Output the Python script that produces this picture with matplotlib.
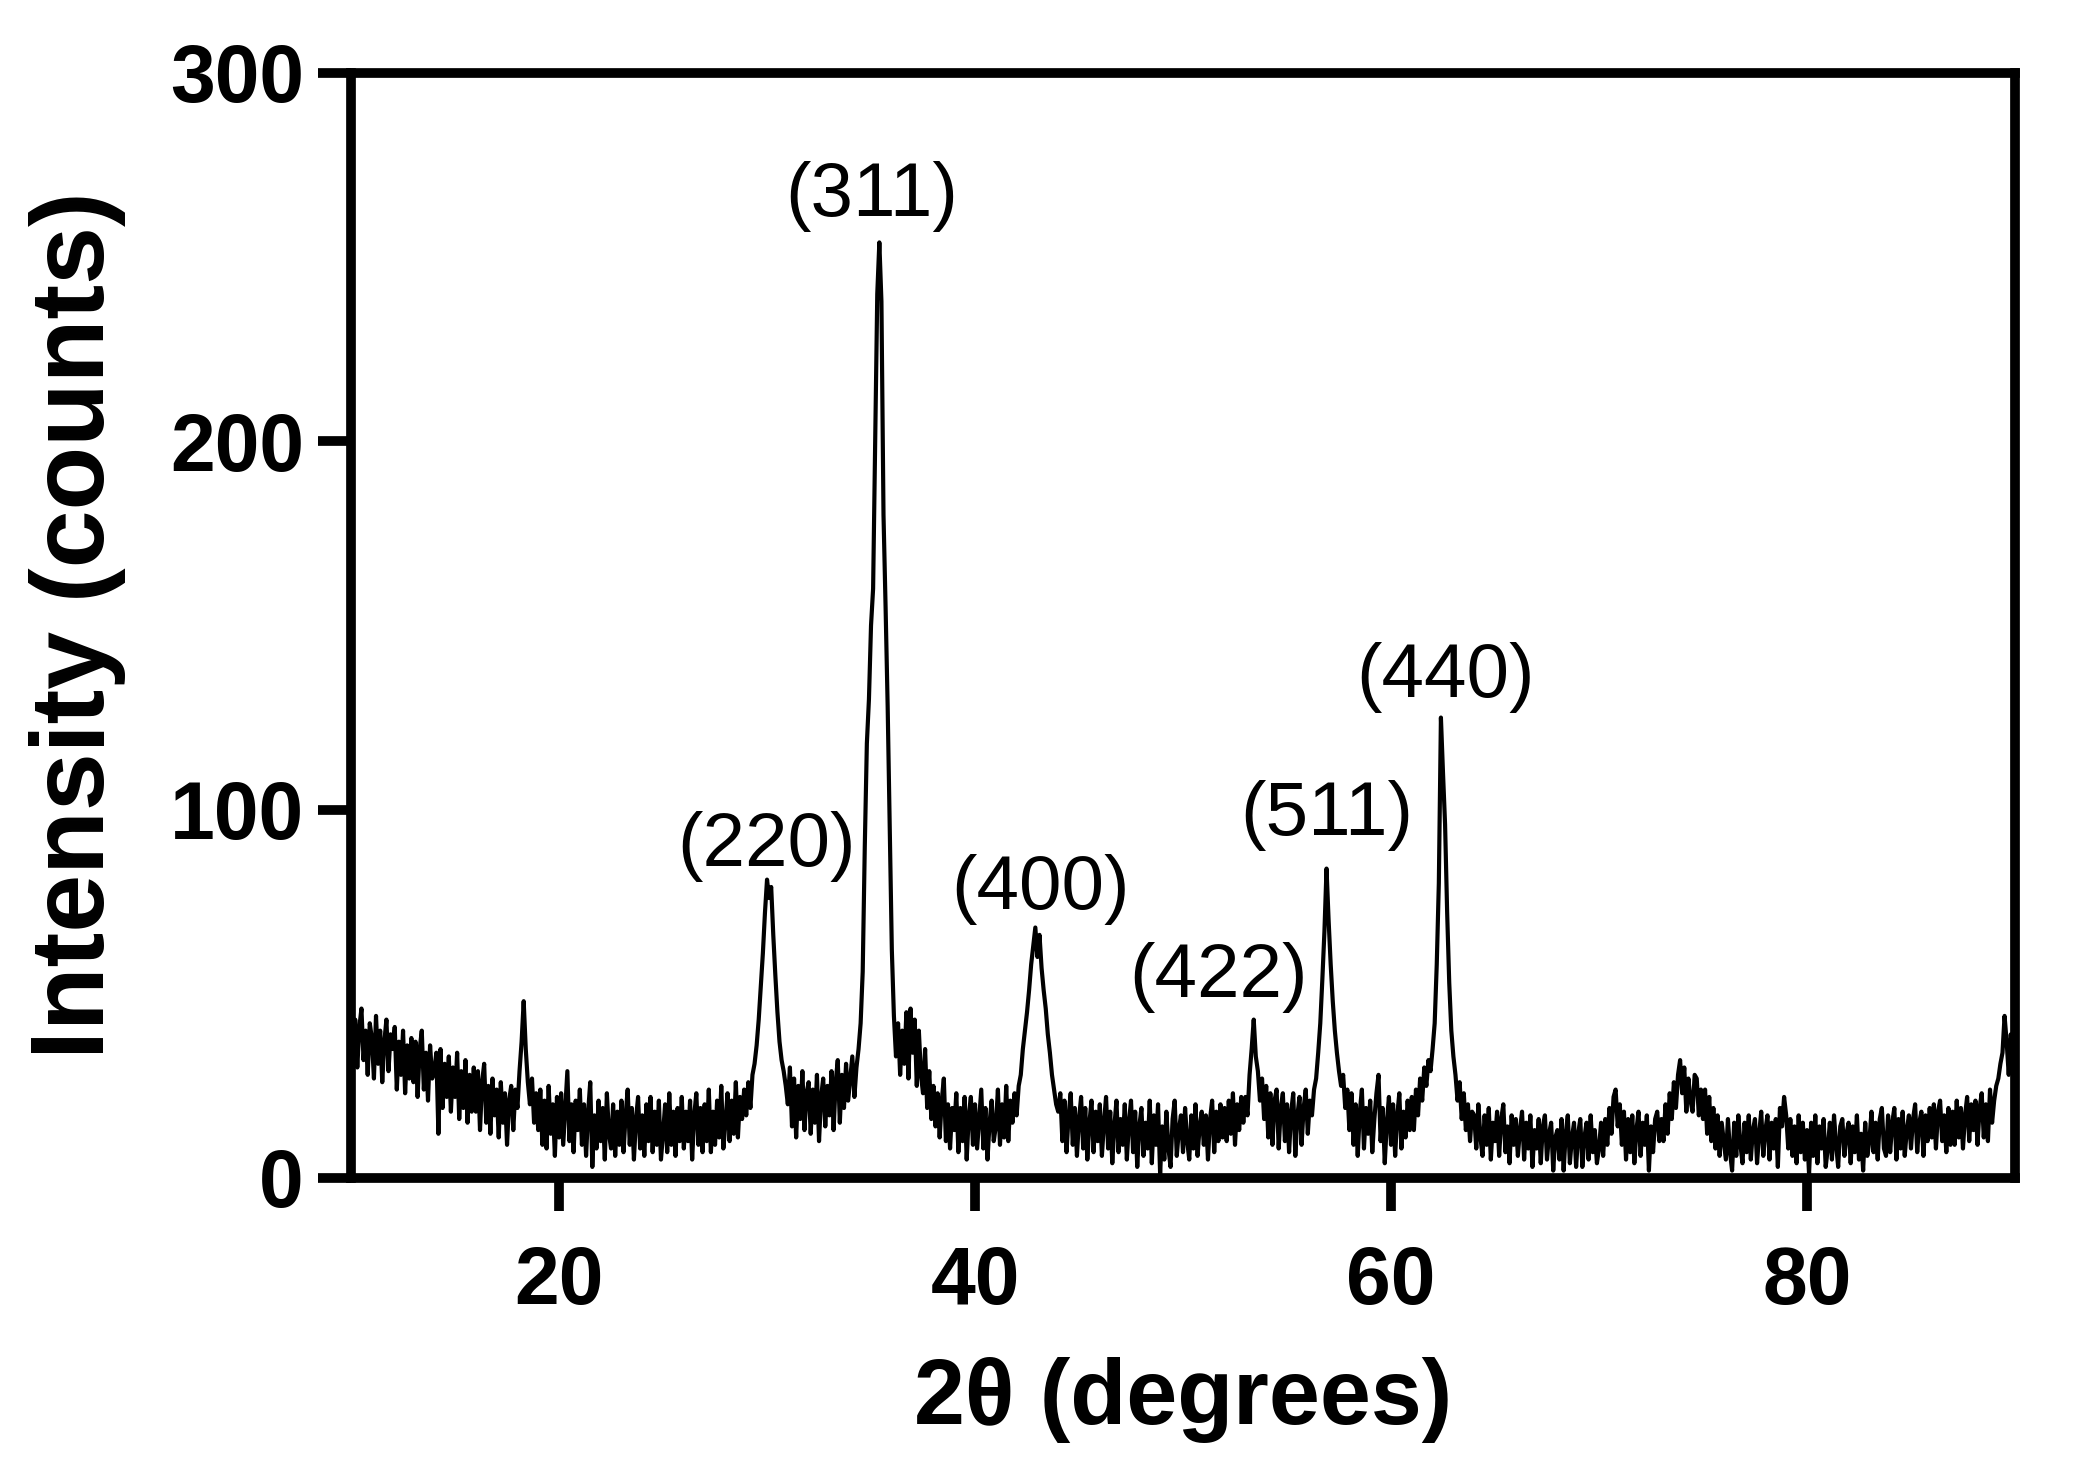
import numpy as np
import matplotlib.pyplot as plt

plt.rcParams['font.family'] = ['Liberation Sans', 'DejaVu Sans']

# XRD scan, 0.1 degree step starting at 10 degrees
start_angle = 10.0
step = 0.1

counts_10_20 = [
    47, 33, 43, 30, 41, 46, 32, 40, 28, 42,
    38, 27, 44, 31, 40, 26, 37, 43, 29, 39,
    35, 41, 24, 37, 28, 40, 23, 36, 27, 38,
    26, 37, 22, 35, 40, 24, 34, 21, 36, 27,
    29, 34, 12, 35, 19, 31, 22, 33, 18, 30,
    22, 34, 16, 29, 19, 32, 15, 28, 18, 30,
    18, 29, 13, 26, 31, 15, 25, 12, 27, 17,
    24, 11, 26, 15, 23, 9, 21, 25, 13, 24,
    19, 29, 37, 48, 35, 26, 20, 27, 15, 23,
    13, 24, 9, 21, 8, 25, 12, 20, 6, 22,
]
counts_20_30 = [
    11, 23, 9, 19, 29, 10, 20, 7, 21, 13,
    24, 9, 20, 6, 18, 26, 3, 17, 8, 21,
    10, 19, 5, 23, 12, 8, 20, 6, 18, 9,
    21, 7, 17, 24, 9, 19, 5, 16, 22, 8,
    17, 6, 20, 10, 22, 7, 18, 9, 21, 5,
    12, 20, 7, 23, 9, 18, 6, 19, 10, 22,
    8, 18, 10, 21, 5, 17, 23, 9, 19, 7,
    20, 10, 24, 7, 18, 9, 21, 11, 25, 8,
    15, 23, 10, 21, 12, 26, 11, 22, 16, 24,
    17, 26, 19, 28, 31, 36, 43, 52, 61, 72,
]
counts_30_40 = [
    81, 76, 79, 66, 55, 45, 37, 32, 29, 25,
    20, 30, 14, 27, 11, 25, 16, 29, 13, 23,
    26, 12, 24, 15, 28, 10, 22, 27, 14, 25,
    17, 29, 13, 26, 32, 15, 28, 19, 31, 21,
    27, 33, 22, 30, 35, 42, 56, 90, 118, 130,
    150, 160, 200, 240, 254, 238, 180, 155, 128, 95,
    62, 44, 33, 42, 28, 40, 31, 45, 27, 46,
    34, 43, 25, 40, 28, 23, 35, 19, 29, 16,
    25, 14, 23, 11, 21, 27, 10, 20, 8, 19,
    13, 23, 7, 19, 10, 22, 5, 17, 22, 9,
]
counts_40_50 = [
    20, 8, 16, 24, 8, 19, 5, 15, 21, 10,
    14, 24, 9, 20, 11, 25, 10, 21, 15, 23,
    17, 25, 28, 35, 40, 45, 51, 58, 63, 68,
    60, 66, 57, 51, 46, 39, 34, 28, 24, 20,
    18, 23, 10, 21, 7, 17, 23, 9, 19, 6,
    16, 22, 8, 19, 5, 15, 21, 7, 18, 10,
    20, 6, 15, 22, 8, 18, 4, 14, 21, 7,
    16, 9, 20, 5, 15, 21, 7, 18, 3, 14,
    19, 6, 15, 8, 21, 4, 17, 9, 20, 1,
    14, 5, 18, 8, 3, 16, 21, 6, 13, 17,
]
counts_50_60 = [
    7, 19, 10, 5, 17, 8, 20, 6, 14, 18,
    9, 17, 5, 16, 21, 7, 18, 10, 20, 11,
    19, 10, 21, 12, 23, 9, 20, 13, 22, 15,
    22, 17, 28, 35, 43, 33, 29, 21, 27, 16,
    25, 11, 23, 9, 21, 24, 8, 19, 23, 10,
    20, 7, 18, 23, 6, 17, 22, 9, 19, 24,
    12, 21, 17, 24, 27, 34, 42, 54, 67, 84,
    70, 58, 48, 40, 34, 29, 25, 28, 19, 24,
    13, 23, 9, 20, 6, 18, 24, 8, 19, 12,
    21, 7, 16, 23, 28, 10, 19, 4, 15, 22,
]
counts_60_70 = [
    9, 20, 6, 17, 23, 8, 18, 11, 21, 13,
    22, 13, 24, 17, 27, 21, 30, 25, 32, 29,
    35, 42, 58, 80, 125, 110, 96, 72, 53, 40,
    33, 28, 21, 26, 16, 23, 13, 20, 10, 18,
    17, 8, 20, 11, 6, 17, 9, 19, 5, 15,
    10, 18, 6, 16, 20, 7, 14, 4, 17, 9,
    16, 6, 13, 18, 5, 15, 8, 17, 3, 13,
    8, 16, 4, 14, 17, 5, 12, 15, 2, 11,
    13, 5, 16, 2, 12, 17, 4, 11, 15, 3,
    12, 16, 3, 11, 15, 5, 17, 7, 13, 4,
]
counts_70_80 = [
    8, 15, 6, 16, 9, 19, 12, 22, 24, 14,
    20, 9, 18, 5, 16, 7, 17, 4, 13, 18,
    6, 15, 9, 17, 2, 14, 7, 16, 18, 10,
    16, 10, 20, 12, 23, 16, 26, 19, 28, 32,
    23, 30, 18, 27, 21, 18, 28, 27, 17, 24,
    16, 24, 12, 22, 10, 19, 8, 17, 6, 15,
    10, 5, 16, 7, 2, 15, 6, 17, 9, 4,
    15, 7, 17, 5, 13, 16, 4, 12, 18, 6,
    13, 17, 5, 15, 8, 16, 3, 19, 14, 22,
    17, 8, 16, 6, 14, 4, 17, 7, 15, 5,
]
counts_80_90 = [
    13, 1, 15, 6, 17, 4, 14, 8, 16, 3,
    8, 15, 5, 17, 9, 3, 14, 16, 6, 12,
    15, 4, 14, 7, 17, 5, 12, 2, 15, 6,
    10, 18, 7, 15, 5, 16, 19, 8, 6, 17,
    7, 15, 19, 5, 16, 8, 18, 6, 13, 17,
    8, 16, 20, 7, 15, 18, 6, 17, 10, 19,
    11, 20, 8, 18, 21, 10, 17, 7, 19, 9,
    18, 9, 21, 11, 19, 8, 17, 22, 10, 20,
    13, 21, 9, 19, 23, 11, 20, 10, 24, 15,
    21, 25, 27, 31, 34, 44, 37, 28, 39, 33,
    36,
]

# Miller indices of the labelled reflections and where their labels sit
peak_labels = ['(220)', '(311)', '(400)', '(422)', '(511)', '(440)']
label_x = [29.98, 35.05, 43.16, 51.73, 56.9, 62.6]
label_y = [89.9, 266.4, 78.2, 54.4, 98.4, 136.0]

counts = np.array(counts_10_20 + counts_20_30 + counts_30_40 + counts_40_50
                  + counts_50_60 + counts_60_70 + counts_70_80 + counts_80_90)
two_theta = start_angle + step * np.arange(len(counts))

fig = plt.figure(figsize=(20.76, 14.71), dpi=100)
ax = fig.add_axes([0.1691, 0.1992, 0.8015, 0.7512])

ax.plot(two_theta, counts, color='black', lw=3.0)

ax.set_xlim(10, 90)
ax.set_ylim(0, 300)
ax.set_xticks([20, 40, 60, 80])
ax.set_yticks([0, 100, 200, 300])

for s in ax.spines.values():
    s.set_linewidth(7)
ax.tick_params(direction='out', length=24, width=7, labelsize=58)
ax.tick_params(axis='x', pad=24)
ax.tick_params(axis='y', pad=10)
for lab in ax.get_xticklabels() + ax.get_yticklabels():
    lab.set_fontweight('bold')

ax.set_xlabel('2θ (degrees)', fontsize=66, fontweight='bold', va='center')
ax.xaxis.set_label_coords(0.5, -0.2009)
ax.set_ylabel('Intensity (counts)', fontsize=75, fontweight='bold', va='center')
ax.yaxis.set_label_coords(-0.1647, 0.5)

for t, x, y in zip(peak_labels, label_x, label_y):
    ax.text(x, y, t, fontsize=55, ha='center', va='center')

fig.savefig('out.png', dpi=100)
